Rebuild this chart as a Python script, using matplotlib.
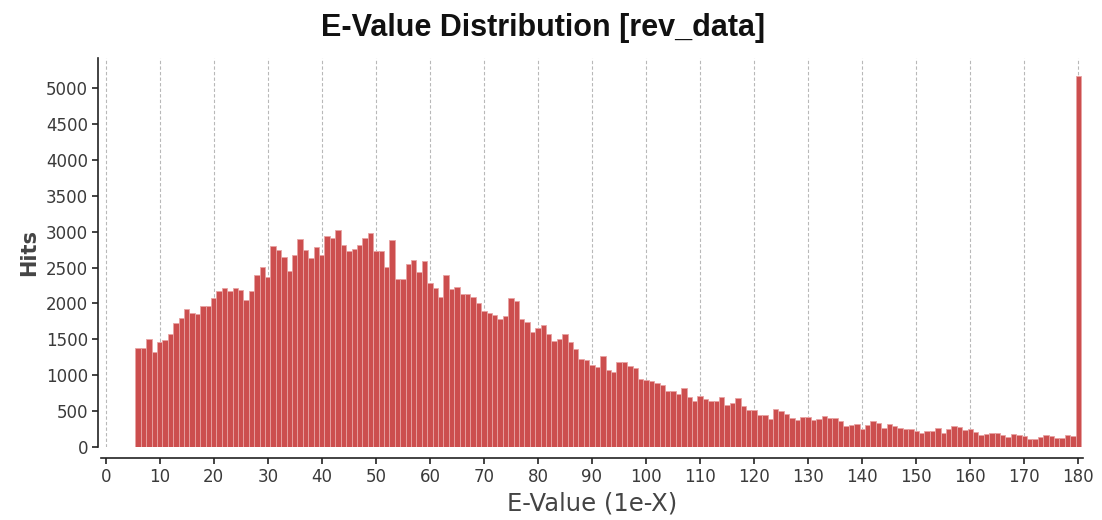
import numpy as np
import matplotlib
matplotlib.use("Agg")
import matplotlib.pyplot as plt

# e-value bins (1e-X), one bar per integer exponent
evalue = np.arange(6, 181)
hits = [
    1385, 1385, 1506, 1325, 1468, 1492, 1571, 1733, 1802, 1923,   # 6-15
    1872, 1853, 1969, 1969, 2071, 2178, 2211, 2169, 2215, 2187,   # 16-25
    2044, 2178, 2391, 2507, 2368, 2803, 2743, 2641, 2456, 2672,   # 26-35
    2892, 2739, 2628, 2790, 2674, 2934, 2906, 3021, 2813, 2730,   # 36-45
    2762, 2813, 2906, 2976, 2725, 2725, 2511, 2878, 2336, 2336,   # 46-55
    2553, 2600, 2442, 2595, 2285, 2219, 2086, 2391, 2205, 2229,   # 56-65
    2132, 2132, 2086, 2011, 1899, 1872, 1835, 1784, 1830, 2071,   # 66-75
    2039, 1784, 1738, 1608, 1663, 1696, 1571, 1478, 1510, 1580,   # 76-85
    1460, 1363, 1228, 1210, 1140, 1121, 1269, 1075, 1043, 1180,   # 86-95
    1182, 1135, 1103, 950, 936, 918, 890, 862, 783, 783,          # 96-105
    745, 820, 704, 644, 713, 667, 648, 648, 699, 592,             # 106-115
    616, 685, 574, 519, 519, 453, 453, 398, 528, 502,             # 116-125
    463, 412, 384, 417, 417, 375, 389, 440, 407, 407,             # 126-135
    370, 300, 314, 328, 254, 306, 370, 334, 273, 328,             # 136-145
    296, 268, 259, 259, 227, 203, 227, 227, 268, 201,             # 146-155
    250, 300, 278, 236, 250, 208, 167, 189, 199, 199,             # 156-165
    167, 147, 181, 167, 153, 120, 120, 147, 175, 153,             # 166-175
    129, 129, 175, 153, 5160,                                     # 176-180
]
xticks = np.arange(0, 181, 10)
yticks = np.arange(0, 5001, 500)

W, H = 1102, 520
fig = plt.figure(figsize=(W / 100, H / 100), dpi=100)
ax = fig.add_axes([100.6 / W, (H - 447.3) / H, (1083.4 - 100.6) / W, (447.3 - 58) / H])

ax.bar(evalue, hits, width=1.0, color="#cc4e4e", edgecolor="#e8a3a3", linewidth=0.6, zorder=2)

ax.set_xlim(-0.93, 180.93)
ax.set_ylim(0, 5413)
ax.set_xticks(xticks)
ax.set_yticks(yticks)

for x in xticks:
    ax.axvline(x, color="#b8b8b8", lw=0.8, ls=(0, (3, 2)), zorder=1)

for side in ("top", "right"):
    ax.spines[side].set_visible(False)
ax.spines["left"].set_position(("outward", 2))
ax.spines["bottom"].set_position(("outward", 8))
for side in ("left", "bottom"):
    ax.spines[side].set_color("#222222")
    ax.spines[side].set_linewidth(1.2)

ax.tick_params(axis="both", direction="out", length=4, width=1.2, color="#222222",
               labelsize=12, labelcolor="#3a3a3a", pad=3)

ax.set_ylabel("Hits", fontsize=15, fontweight="bold", color="#444444", labelpad=5)
ax.set_xlabel("E-Value (1e-X)", fontsize=17.5, color="#444444", labelpad=4)
fig.suptitle("E-Value Distribution [rev_data]", family="Liberation Sans", fontsize=22,
             fontweight="bold", color="#111111", x=0.493, y=0.975)

fig.savefig("out.png", dpi=100, facecolor="white")
